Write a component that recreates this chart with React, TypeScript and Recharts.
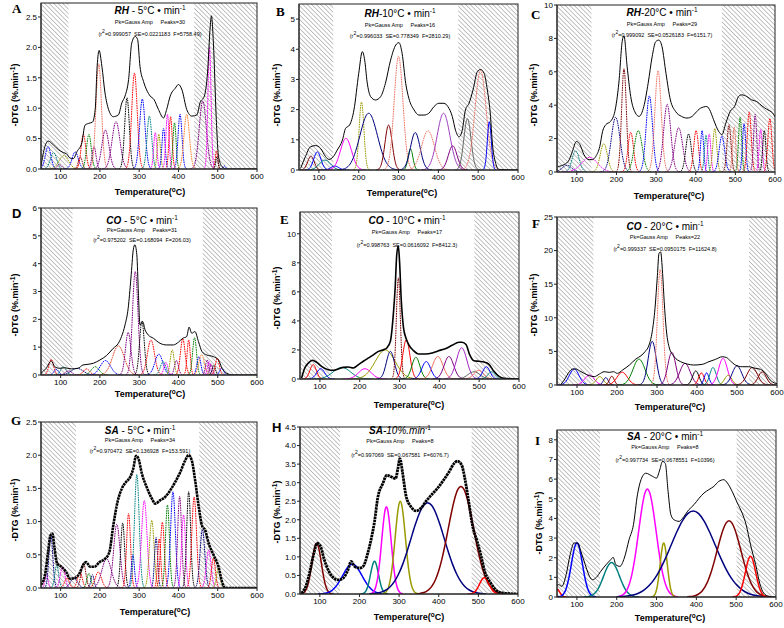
import { LineChart, Line, XAxis, YAxis, ReferenceArea } from "recharts";

// Gauss Amp deconvolution of -DTG curves (RH, CO, SA at 5/10/20 °C/min).

const rh5Curve = [[50,0.05],[60,0.37],[68,0.46],[81,0.40],[94,0.32],[107,0.27],[115,0.25],[124,0.18],[132,0.17],[142,0.29],[154,0.43],[162,0.72],[171,0.75],[181,0.77],[188,0.98],[193,1.69],[198,1.95],[205,1.69],[213,1.25],[222,0.98],[234,0.86],[247,0.89],[256,1.09],[264,1.2],[273,1.47],[281,2.07],[290,2.18],[296,2.13],[302,1.69],[311,1.44],[319,1.3],[328,1.2],[338,1.14],[349,0.98],[362,0.84],[370,0.98],[379,1.2],[392,1.33],[400,1.39],[409,1.3],[421,0.98],[434,0.87],[447,0.89],[455,1.09],[466,1.2],[474,1.58],[481,2.35],[484,2.52],[489,2.07],[496,0.87],[502,0.21],[511,0.04],[523,0],[600,0]];
const rh5Centers = [68,82,97,108,137,150,158,172,185,197,214,241,269,288,308,326,341,350,362,372,380,390,404,421,462,479,497,498,517];
const rh5Heights = [0.37,0.27,0.07,0.22,0.28,0.2,0.57,0.57,0.37,1.73,0.64,0.78,1.17,1.58,1.15,0.87,0.6,0.57,0.67,0.9,0.86,0.76,0.9,0.9,1.12,2.0,0.3,0.2,0.05];
const rh5Sigmas = [7,8,6,12,8,5,6,6,5,7,9,10,6,7,7,6,4,4,4,4,4,4,5,7,9,4,3,3,3];

const rh10Curve = [[54,0.05],[66,0.44],[79,0.77],[92,0.81],[104,0.72],[117,0.44],[125,0.35],[136,0.44],[146,0.66],[159,0.99],[167,1.38],[177,1.49],[188,1.99],[200,3.2],[209,3.92],[215,3.64],[221,2.92],[230,2.43],[242,2.32],[255,2.43],[267,2.87],[280,3.64],[293,4.14],[301,4.22],[309,3.86],[318,2.87],[326,2.37],[339,1.99],[351,1.82],[364,1.82],[376,1.88],[389,2.1],[401,2.21],[414,2.21],[424,2.1],[435,1.77],[443,1.32],[452,1.1],[460,1.32],[468,1.99],[477,2.21],[487,2.65],[498,3.26],[506,3.33],[515,3.2],[523,2.65],[531,1.77],[535,0.99],[544,0.22],[552,0.02],[600,0]];
const rh10Centers = [80,96,115,140,168,207,225,275,300,330,342,374,413,436,473,506,528];
const rh10Heights = [0.46,0.6,0.33,0.13,1.05,2.25,1.88,1.49,3.77,0.7,1.24,1.3,1.88,0.8,1.7,3.3,1.6];
const rh10Sigmas = [8,9,14,10,14,6,22,9,11,6,12,16,16,11,9,14,5];

const rh20Curve = [[52,0.3],[56,0.34],[68,0.44],[81,0.74],[89,1.24],[99,1.83],[108,1.63],[118,1.04],[131,0.74],[139,0.74],[148,0.94],[158,1.53],[165,2.43],[173,2.83],[185,3.03],[196,3.63],[206,5.32],[215,7.9],[219,8.15],[227,6.3],[236,4.52],[248,3.53],[257,3.33],[269,3.92],[280,5.32],[290,6.9],[299,7.8],[307,7.9],[315,7.5],[325,5.9],[336,4.32],[349,3.63],[364,3.33],[378,3.23],[391,3.33],[399,3.53],[412,3.82],[428,3.92],[437,3.63],[445,3.13],[458,2.43],[466,2.23],[476,2.93],[487,3.63],[498,3.92],[508,4.52],[516,4.62],[529,4.52],[541,4.32],[554,4.22],[567,3.96],[579,3.76],[587,3.66],[593,3.56],[600,3.3]];
const rh20Centers = [75,97,132,168,198,219,236,255,283,305,328,357,382,401,416,426,434,448,466,484,497,512,522,535,550,564,573,587];
const rh20Heights = [0.4,1.27,0.88,1.7,3.28,6.18,2.38,2.48,4.56,6.06,4.05,2.65,2.28,2.48,2.48,2.2,2.28,2.6,2.15,2.83,2.7,3.28,2.9,3.6,3.45,2.55,2.48,3.2];
const rh20Sigmas = [12,9,20,9,11,6,7,10,8,8,9,10,7,6,4,4,4,5,7,5,4,4,4,5,4,4,4,5];

const co5Curve = [[50,0.06],[63,0.24],[76,0.5],[85,0.3],[97,0.24],[110,0.26],[127,0.22],[144,0.24],[157,0.36],[167,0.38],[183,0.42],[200,0.54],[217,0.7],[234,0.96],[247,1.14],[255,1.38],[264,1.8],[272,2.4],[279,3.48],[285,4.5],[289,4.68],[294,4.32],[298,2.94],[302,1.8],[309,1.92],[315,1.62],[323,1.44],[336,1.32],[353,1.14],[370,1.08],[387,1.08],[400,1.18],[411,1.32],[421,1.38],[427,1.72],[434,1.5],[442,1.56],[451,1.2],[460,0.84],[472,0.72],[489,0.66],[502,0.54],[511,0.24],[523,0.06],[540,0],[600,0]];
const co5Centers = [76,89,107,120,142,166,188,214,247,272,290,307,330,350,361,368,384,395,411,426,441,452,459,473,478,483,490,499,510];
const co5Heights = [0.56,0.2,0.3,0.15,0.24,0.22,0.3,0.52,1.05,1.53,3.72,1.94,1.26,0.75,0.48,0.45,0.9,0.52,1.3,1.26,1.34,0.66,0.73,0.54,0.48,0.4,0.35,0.6,0.25];
const co5Sigmas = [6,6,7,8,15,8,10,13,15,7,7,6,9,10,7,5,5,5,6,4,5,5,7,4,4,4,4,5,5];

const co10Curve = [[54,0.07],[62,0.76],[71,1.1],[81,1.29],[92,1.15],[104,0.87],[121,0.64],[134,0.6],[146,0.69],[159,0.8],[171,0.83],[184,0.76],[197,0.99],[209,1.22],[222,1.45],[235,1.68],[247,1.9],[260,2.02],[268,2.14],[277,2.6],[285,4.67],[289,6.28],[293,8.57],[297,9.15],[300,8.1],[304,5.6],[310,3.52],[316,2.83],[323,2.37],[335,1.95],[348,1.72],[365,1.72],[382,1.79],[398,1.95],[415,2.09],[432,2.32],[449,2.53],[457,2.53],[467,2.37],[476,1.68],[487,1.26],[499,1.22],[512,1.17],[524,1.03],[537,0.53],[550,0.18],[562,0.05],[600,0]];
const co10Centers = [83,102,155,213,264,277,297,317,341,367,396,424,456,487,499,518,531];
const co10Heights = [0.99,0.71,0.8,0.71,2.0,1.9,6.97,2.7,1.5,1.2,1.55,1.55,2.15,0.5,0.6,0.85,0.5];
const co10Sigmas = [8,10,22,16,25,10,5,9,10,11,13,12,13,15,12,9,9];

const co20Curve = [[60,0.1],[68,0.74],[81,1.98],[89,2.38],[98,2.38],[106,2.13],[118,1.73],[131,1.39],[143,1.24],[156,1.63],[168,1.98],[181,1.88],[191,1.98],[201,1.73],[214,2.23],[231,2.97],[247,3.86],[260,4.36],[270,4.95],[280,5.94],[288,7.92],[295,11.4],[301,16.3],[305,19.6],[309,19.8],[314,16.6],[318,12.4],[323,8.4],[330,5.7],[343,4.2],[359,3.47],[376,3.12],[392,2.97],[413,3.07],[430,3.47],[446,3.81],[463,4.2],[473,4.1],[484,3.56],[496,2.97],[513,2.72],[529,2.72],[546,2.48],[559,2.33],[571,1.73],[583,0.74],[596,0.25],[600,0.2]];
const co20Centers = [93,131,157,172,187,213,255,288,308,337,370,397,411,424,440,465,478,500,538,563];
const co20Heights = [2.38,1.48,1.25,1.1,1.3,1.9,3.85,6.5,17.2,4.85,3.22,2.1,1.8,1.8,2.6,3.95,1.45,2.85,2.6,1.95];
const co20Sigmas = [12,12,9,6,6,13,15,10,7,10,13,8,7,6,8,11,9,12,13,10];

const sa5Curve = [[50,0.05],[60,0.19],[68,0.54],[74,0.79],[79,0.82],[84,0.62],[91,0.37],[102,0.32],[114,0.24],[124,0.14],[136,0.15],[148,0.22],[158,0.35],[165,0.39],[175,0.32],[186,0.32],[199,0.39],[213,0.44],[224,0.54],[234,0.94],[245,1.3],[256,1.5],[267,1.6],[277,1.67],[285,1.8],[292,1.99],[298,1.95],[307,1.72],[319,1.52],[332,1.35],[341,1.27],[353,1.32],[366,1.37],[379,1.47],[392,1.6],[405,1.75],[417,1.92],[426,2.0],[434,1.92],[443,1.6],[451,1.25],[460,0.94],[468,0.87],[477,0.67],[490,0.49],[502,0.32],[511,0.09],[519,0],[600,0]];
const sa5Centers = [64,75,90,105,116,134,149,158,172,181,196,217,243,258,273,284,294,313,332,343,351,359,372,386,403,413,426,440,461,477,489,502];
const sa5Heights = [0.2,0.8,0.34,0.32,0.15,0.15,0.24,0.38,0.22,0.2,0.24,0.44,0.96,0.98,1.12,0.5,1.71,1.32,1.02,0.76,0.74,0.99,1.25,1.45,1.38,1.1,1.45,1.37,0.88,0.57,0.45,0.3];
const sa5Sigmas = [4,5,5,6,6,9,6,6,5,4,8,12,8,5,5,4,6,7,6,4,4,5,5,6,5,5,5,6,6,6,5,5];

const sa10Curve = [[54,0.02],[65,0.21],[75,0.61],[85,1.1],[93,1.37],[102,1.28],[110,0.97],[121,0.65],[133,0.45],[146,0.38],[159,0.43],[171,0.65],[179,0.88],[188,0.74],[200,0.7],[209,0.74],[221,1.1],[230,1.5],[238,1.95],[246,2.58],[259,2.98],[269,3.2],[280,3.16],[291,3.11],[297,3.38],[302,3.65],[309,3.25],[317,2.67],[330,2.35],[343,2.24],[355,2.31],[368,2.5],[380,2.65],[393,2.8],[409,3.02],[426,3.29],[439,3.52],[447,3.58],[458,3.47],[466,3.11],[475,2.53],[485,1.86],[497,1.41],[506,1.06],[516,0.61],[531,0.3],[543,0.12],[560,0.03],[600,0]];
const sa10Centers = [92,182,238,268,303,372,456,515];
const sa10Heights = [1.36,0.8,0.88,2.35,2.5,2.46,2.9,0.44];
const sa10Sigmas = [12,25,10,12,13,42,32,12];

const sa20Curve = [[50,0.6],[54,0.63],[62,0.54],[73,1.14],[83,2.15],[93,2.75],[102,2.75],[110,2.32],[121,1.64],[129,1.17],[139,0.88],[149,1.0],[160,1.31],[173,1.64],[185,1.9],[191,2.02],[198,1.64],[208,1.56],[219,1.98],[231,2.92],[242,3.68],[252,5.2],[261,5.97],[273,6.3],[290,6.14],[300,6.05],[308,6.47],[315,6.9],[322,6.8],[329,5.37],[336,4.19],[344,3.93],[357,3.85],[365,4.0],[381,4.44],[394,4.7],[407,5.03],[419,5.29],[431,5.46],[444,5.63],[456,5.88],[469,5.97],[478,5.8],[490,5.37],[503,4.78],[515,4.27],[525,3.68],[536,2.66],[549,1.64],[559,0.71],[569,0.2],[582,0.03],[600,0]];
const sa20Centers = [50,100,187,277,318,392,482,536];
const sa20Heights = [0.4,2.75,1.75,5.5,2.75,4.38,3.88,2.07];
const sa20Sigmas = [7,14,20,22,9,55,30,13];

const xTicks = [100, 200, 300, 400, 500, 600];

const col = {
  blue: "#0000ff", navy: "#000080", teal: "#008080", olive: "#9a9a00", red: "#ff0000",
  wine: "#800000", green: "#008000", magenta: "#ff00ff", purple: "#800080",
  salmon: "#f07060", orange: "#ff7f27", black: "#000000", gray: "#666666",
};
const c = col;
const rh5Colors = [c.blue,c.teal,c.purple,c.olive,c.blue,c.wine,c.red,c.green,c.purple,c.salmon,c.purple,c.purple,c.black,c.red,c.blue,c.teal,c.magenta,c.olive,c.blue,c.magenta,c.red,c.green,c.blue,c.orange,c.purple,c.magenta,c.red,c.black,c.blue];
const rh10Colors = [c.wine,c.blue,c.teal,c.blue,c.magenta,c.olive,c.navy,c.wine,c.salmon,c.green,c.navy,c.salmon,"#a040c0",c.purple,c.gray,c.salmon,c.blue];
const rh20Colors = [c.navy,c.teal,c.magenta,c.olive,c.navy,c.wine,c.red,c.green,c.blue,c.salmon,c.purple,c.purple,c.black,c.red,c.blue,c.teal,c.magenta,c.olive,c.blue,c.wine,c.salmon,c.green,c.blue,c.red,c.purple,c.magenta,c.black,c.red];
const co5Colors = [c.red,c.blue,c.teal,c.purple,c.navy,c.red,c.green,c.blue,"#e04020",c.purple,c.purple,c.black,c.red,c.blue,c.teal,c.magenta,c.olive,c.purple,c.red,c.red,c.green,c.blue,c.orange,c.purple,c.magenta,c.purple,c.black,c.red,c.blue];
const co10Colors = [c.red,c.blue,c.teal,c.magenta,c.olive,c.navy,c.wine,c.red,c.green,c.blue,c.salmon,c.purple,"#a020c0",c.gray,c.salmon,c.blue,c.teal];
const co20Colors = [c.blue,c.magenta,c.olive,c.navy,c.wine,c.red,c.green,c.navy,c.salmon,c.purple,c.purple,c.black,c.red,c.blue,c.teal,c.magenta,c.olive,c.navy,c.wine,c.wine];
const sa5Colors = [c.magenta,c.navy,c.teal,c.magenta,c.red,c.navy,c.red,c.wine,c.green,c.navy,c.red,c.purple,c.purple,c.black,c.red,c.blue,c.teal,c.magenta,c.olive,c.navy,c.red,c.red,c.green,c.blue,c.purple,c.magenta,c.black,c.red,c.navy,c.magenta,c.red,c.olive];
const sa10Colors = [c.wine,c.blue,c.teal,c.magenta,c.olive,c.navy,c.wine,c.red];
const sa20Colors = [c.red,c.blue,c.teal,c.magenta,c.olive,c.navy,c.wine,c.red];

function gaussPeak(ctr: number, amp: number, sig: number) {
  const pts: { x: number; y: number }[] = [];
  for (let k = -14; k <= 14; k++) {
    const x = ctr + (k * sig) / 4;
    if (x < 50 || x > 600) continue;
    pts.push({ x, y: amp * Math.exp(-0.5 * (k / 4) * (k / 4)) });
  }
  return pts;
}

const toPts = (arr: number[][]) => arr.map(([x, y]) => ({ x, y }));

const panels = [
  { letter: "A", serif: true, sample: "RH", rate: " - 5°C • min", peaksN: 30, stats: ["0.999057", "0.0221183", "5758.49"],
    box: { l: 41, r: 257, t: 3, b: 169 }, yMax: 2.73, yTicks: [0, 0.5, 1, 1.5, 2, 2.5], dec: 1, hatch: [120, 440],
    curve: rh5Curve, centers: rh5Centers, heights: rh5Heights, sigmas: rh5Sigmas, colors: rh5Colors, dotted: "all", bold: 1,
    lt: [12, 13], tt: [150, 14, 24, 36], yl: [15, 95], xl: [150, 195] },
  { letter: "B", serif: true, sample: "RH", rate: "-10°C • min", peaksN: 16, stats: ["0.996033", "0.778349", "2810.29"],
    box: { l: 299, r: 518, t: 4, b: 170 }, yMax: 5.5, yTicks: [0, 1, 2, 3, 4, 5], dec: 0, hatch: [136, 450],
    curve: rh10Curve, centers: rh10Centers, heights: rh10Heights, sigmas: rh10Sigmas, colors: rh10Colors, dotted: [5, 8, 11, 15], bold: 1,
    lt: [276, 16], tt: [400, 17, 27, 38], yl: [277, 95], xl: [402, 196] },
  { letter: "C", serif: true, sample: "RH", rate: "-20°C • min", peaksN: 29, stats: ["0.999092", "0.0526183", "6151.7"],
    box: { l: 557, r: 775, t: 5, b: 172 }, yMax: 10, yTicks: [0, 2, 4, 6, 8, 10], dec: 0, hatch: [137, 466],
    curve: rh20Curve, centers: rh20Centers, heights: rh20Heights, sigmas: rh20Sigmas, colors: rh20Colors, dotted: "all", bold: 1,
    lt: [531, 19], tt: [662, 16, 26, 37], yl: [534, 95], xl: [669, 199] },
  { letter: "D", serif: false, sample: "CO", rate: " - 5°C • min", peaksN: 31, stats: ["0.975202", "0.168094", "206.03"],
    box: { l: 41, r: 257, t: 208, b: 375 }, yMax: 6, yTicks: [0, 1, 2, 3, 4, 5, 6], dec: 0, hatch: [130, 462],
    curve: co5Curve, centers: co5Centers, heights: co5Heights, sigmas: co5Sigmas, colors: co5Colors, dotted: "all", bold: 1,
    lt: [12, 218], tt: [142, 224, 232, 242], yl: [15, 305], xl: [150, 397] },
  { letter: "E", serif: true, sample: "CO", rate: " - 10°C • min", peaksN: 17, stats: ["0.998763", "0.0616092", "8412.3"],
    box: { l: 300, r: 519, t: 212, b: 379 }, yMax: 11.5, yTicks: [0, 2, 4, 6, 8, 10], dec: 0, hatch: [130, 488],
    curve: co10Curve, centers: co10Centers, heights: co10Heights, sigmas: co10Sigmas, colors: co10Colors, dotted: [6], bold: 1.6,
    lt: [280, 224], tt: [407, 224, 234, 247], yl: [277, 298], xl: [409, 408] },
  { letter: "F", serif: true, sample: "CO", rate: " - 20°C • min", peaksN: 22, stats: ["0.999337", "0.0950175", "11624.8"],
    box: { l: 557, r: 777, t: 217, b: 385 }, yMax: 25, yTicks: [0, 5, 10, 15, 20, 25], dec: 0, hatch: [141, 530],
    curve: co20Curve, centers: co20Centers, heights: co20Heights, sigmas: co20Sigmas, colors: co20Colors, dotted: [8], bold: 1,
    lt: [532, 228], tt: [665, 230, 239, 251], yl: [534, 305], xl: [670, 410] },
  { letter: "G", serif: true, sample: "SA", rate: " - 5°C • min", peaksN: 34, stats: ["0.970472", "0.136928", "153.591"],
    box: { l: 41, r: 257, t: 422, b: 588 }, yMax: 2.5, yTicks: [0, 0.5, 1, 1.5, 2, 2.5], dec: 1, hatch: [139, 453],
    curve: sa5Curve, centers: sa5Centers, heights: sa5Heights, sigmas: sa5Sigmas, colors: sa5Colors, dotted: "all", bold: 2.6,
    lt: [11, 425], tt: [140, 434, 442, 453], yl: [15, 510], xl: [155, 615] },
  { letter: "H", serif: false, sample: "SA", rate: "-10%.min", peaksN: 8, stats: ["0.997069", "0.067581", "6076.7"],
    box: { l: 300, r: 518, t: 427, b: 594 }, yMax: 4.5, yTicks: [0, 0.5, 1, 1.5, 2, 2.5, 3, 3.5, 4, 4.5], dec: 1, hatch: [151, 483],
    curve: sa10Curve, centers: sa10Centers, heights: sa10Heights, sigmas: sa10Sigmas, colors: sa10Colors, dotted: [], bold: 2.8,
    lt: [272, 432], tt: [400, 434, 443, 457], yl: [277, 512], xl: [409, 620] },
  { letter: "I", serif: true, sample: "SA", rate: " - 20°C • min", peaksN: 8, stats: ["0.997734", "0.0678551", "10396"],
    box: { l: 557, r: 776, t: 430, b: 597 }, yMax: 8.5, yTicks: [0, 1, 2, 3, 4, 5, 6, 7, 8], dec: 0, hatch: [158, 501],
    curve: sa20Curve, centers: sa20Centers, heights: sa20Heights, sigmas: sa20Sigmas, colors: sa20Colors, dotted: [], bold: 1,
    lt: [535, 445], tt: [665, 440, 449, 462], yl: [539, 523], xl: [670, 621] },
];

const SANS = "'Liberation Sans', Arial, sans-serif";
const SERIF = "'Liberation Serif', 'Times New Roman', serif";
const YW = 26, MT = 6, MR = 10, XH = 16;

function Panel({ p }: { p: (typeof panels)[number] }) {
  const w = p.box.r - p.box.l;
  const h = p.box.b - p.box.t;
  const thickPeaks = p.letter === "H" || p.letter === "I";
  return (
    <div style={{ position: "absolute", left: p.box.l - YW, top: p.box.t - MT }}>
      <LineChart width={w + YW + MR} height={h + MT + XH} margin={{ top: MT, right: MR, left: 0, bottom: 0 }}>
        <XAxis type="number" dataKey="x" domain={[50, 600]} ticks={xTicks} allowDataOverflow height={XH}
          tick={{ fontSize: 8, fill: "#000", fontFamily: SANS }} tickSize={3} tickMargin={1} stroke="#222" />
        <YAxis type="number" dataKey="y" domain={[0, p.yMax]} ticks={p.yTicks} allowDataOverflow width={YW}
          tick={{ fontSize: 8, fill: "#000", fontFamily: SANS }} tickSize={3} tickMargin={1} stroke="#222"
          tickFormatter={(v: number) => v.toFixed(p.dec)} />
        <ReferenceArea x1={50} x2={p.hatch[0]} fill="url(#hatch)" fillOpacity={1} stroke="none" ifOverflow="hidden" />
        <ReferenceArea x1={p.hatch[1]} x2={600} fill="url(#hatch)" fillOpacity={1} stroke="none" ifOverflow="hidden" />
        {p.centers.map((ctr, i) => {
          const dotted = p.dotted === "all" || (p.dotted as number[]).includes(i);
          return (
            <Line key={i} data={gaussPeak(ctr, p.heights[i], p.sigmas[i])} dataKey="y" type="monotone"
              stroke={p.colors[i]} strokeWidth={thickPeaks ? 1.5 : 1} strokeDasharray={dotted ? "1.6 0.8" : undefined}
              dot={false} isAnimationActive={false} />
          );
        })}
        <Line data={toPts(p.curve)} dataKey="y" type="monotone" stroke="#000" strokeWidth={p.bold}
          strokeDasharray={p.bold > 2 ? "2.5 0.6" : undefined} dot={false} isAnimationActive={false} />
      </LineChart>
    </div>
  );
}

function Labels({ p }: { p: (typeof panels)[number] }) {
  const cx = p.tt[0];
  return (
    <g>
      <rect x={p.box.l} y={p.box.t} width={p.box.r - p.box.l} height={p.box.b - p.box.t} fill="none" stroke="#222" strokeWidth={1} />
      <text x={p.lt[0]} y={p.lt[1]} fontFamily={p.serif ? SERIF : SANS} fontWeight="bold" fontSize={13}>{p.letter}</text>
      <text x={cx} y={p.tt[1]} textAnchor="middle" fontFamily={SANS} fontSize={10}>
        <tspan fontWeight="bold" fontStyle="italic">{p.sample}</tspan>
        <tspan fontStyle={p.letter === "H" ? "italic" : "normal"}>{p.rate}</tspan>
        <tspan dy={-4} fontSize={6.5}>-1</tspan>
      </text>
      <text x={cx} y={p.tt[2]} textAnchor="middle" fontFamily={SANS} fontSize={5.5} style={{ whiteSpace: "pre" }}>
        {`Pk=Gauss Amp     Peaks=${p.peaksN}`}
      </text>
      <text x={cx} y={p.tt[3]} textAnchor="middle" fontFamily={SANS} fontSize={5.5} style={{ whiteSpace: "pre" }}>
        <tspan>(r</tspan>
        <tspan dy={-3} fontSize={5}>2</tspan>
        <tspan dy={3}>{`=${p.stats[0]}  SE=${p.stats[1]}  F=${p.stats[2]})`}</tspan>
      </text>
      <text transform={`translate(${p.yl[0]},${p.yl[1]}) rotate(-90)`} textAnchor="middle" dominantBaseline="central"
        fontFamily={SANS} fontWeight="bold" fontSize={9}>
        <tspan>-DTG (%.min</tspan>
        <tspan dy={-3} fontSize={6.5}>-1</tspan>
        <tspan dy={3}>)</tspan>
      </text>
      <text x={p.xl[0]} y={p.xl[1]} textAnchor="middle" fontFamily={SANS} fontWeight="bold" fontSize={9}>
        <tspan>Temperature(</tspan>
        <tspan dy={-3} fontSize={6.5}>o</tspan>
        <tspan dy={3}>C)</tspan>
      </text>
    </g>
  );
}

export default function App() {
  return (
    <div style={{ position: "absolute", left: 0, top: 0, width: 784, height: 628, background: "#fff", overflow: "hidden" }}>
      <svg width={0} height={0} style={{ position: "absolute" }}>
        <defs>
          <pattern id="hatch" patternUnits="userSpaceOnUse" width={3.2} height={3.2} patternTransform="rotate(-45)">
            <line x1={0} y1={0} x2={0} y2={3.2} stroke="#555" strokeWidth={0.7} />
          </pattern>
        </defs>
      </svg>
      {panels.map((p) => (
        <Panel key={p.letter} p={p} />
      ))}
      <svg width={784} height={628} style={{ position: "absolute", left: 0, top: 0, pointerEvents: "none" }}>
        {panels.map((p) => (
          <Labels key={p.letter} p={p} />
        ))}
      </svg>
    </div>
  );
}
